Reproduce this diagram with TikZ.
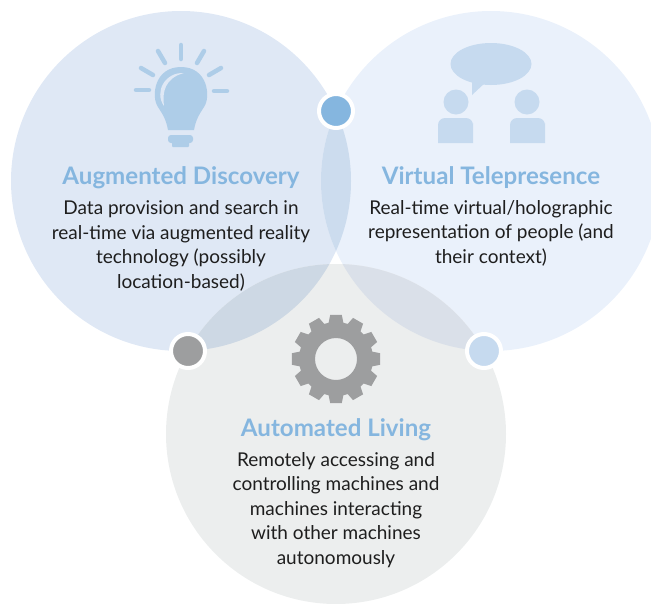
\documentclass[tikz,border=0pt]{standalone}
\usepackage{xcolor}
\usepackage{fontspec}
\usepackage{tikz}
\usetikzlibrary{calc}
\setmainfont{Lato}
\definecolor{discoveryfill}{HTML}{DFE8F5}
\definecolor{presencefill}{HTML}{EAF1FB}
\definecolor{livingfill}{HTML}{ECEEEE}
\definecolor{lensab}{HTML}{CCDCEE}
\definecolor{lensac}{HTML}{CDD8E4}
\definecolor{lensbc}{HTML}{DAE0E9}
\definecolor{titleblue}{HTML}{85B6DF}
\definecolor{bulbblue}{HTML}{AECDE8}
\definecolor{peopleblue}{HTML}{C6DAEF}
\definecolor{geargrey}{HTML}{9D9E9F}
\definecolor{bodytext}{HTML}{1E1E1E}
\tikzset{
    venntitle/.style={text=titleblue, font=\fontsize{24.1}{28}\selectfont\bfseries},
    vennbody/.style={text=bodytext, align=center, font=\fontsize{19}{24.6}\selectfont},
    vennmark/.style={circle, draw=white, line width=4pt, minimum size=34pt, inner sep=0pt},
    bulbray/.style={draw=bulbblue, line width=4.5pt, line cap=round}
}
\begin{document}
\begin{tikzpicture}[x=1pt,y=-1pt]
    \useasboundingbox (0,0) rectangle (651,603);
    % circles
    \fill[discoveryfill] (181,181) circle (170);
    \fill[presencefill] (491,181) circle (170);
    \fill[livingfill] (336,434) circle (170);
    % overlaps
    \begin{scope}
        \clip (181,181) circle (170);
        \fill[lensab] (491,181) circle (170);
        \fill[lensac] (336,434) circle (170);
    \end{scope}
    \begin{scope}
        \clip (491,181) circle (170);
        \fill[lensbc] (336,434) circle (170);
    \end{scope}
    % markers
    \node[vennmark, fill=titleblue] (markab) at (336,111) {};
    \node[vennmark, fill=geargrey] (markac) at (188,351) {};
    \node[vennmark, fill=peopleblue] (markbc) at (484,351) {};
    % light bulb
    \draw[bulbray] (181,45) -- (181,59);
    \draw[bulbray] (158,51) -- (165,63);
    \draw[bulbray] (204,51) -- (197,63);
    \draw[bulbray] (141,68) -- (153,75);
    \draw[bulbray] (221,68) -- (209,75);
    \draw[bulbray] (136,90) -- (149,90);
    \draw[bulbray] (214,91) -- (227,91);
    \fill[bulbblue] (168,130) .. controls (166,118) and (161,112) .. (158,107)
        .. controls (151,97) and (154,67) .. (181,67)
        .. controls (208,67) and (211,97) .. (204,107)
        .. controls (201,112) and (196,118) .. (194,130) -- cycle;
    \fill[discoveryfill] (184,73) .. controls (165,72) and (154,92) .. (164,106)
        .. controls (162,92) and (165,78) .. (184,73) -- cycle; % highlight
    \fill[bulbblue, rounded corners=3pt] (168,135) rectangle (193,143);
    \fill[bulbblue, rounded corners=1pt] (172,141) rectangle (189,147);
    % speech bubble and two people
    \fill[peopleblue] (491,64) ellipse (40.5 and 21);
    \fill[peopleblue] (472,80) -- (472,95) -- (486,82) -- cycle;
    \fill[peopleblue] (456,102) circle (12.5);
    \fill[peopleblue] (527,102) circle (12.5);
    \fill[peopleblue, rounded corners=7pt] (438,143) [sharp corners] -- (438,130) [rounded corners=7pt] -- (438,118) -- (473,118) -- (473,130) [sharp corners] -- (473,143) -- cycle;
    \fill[peopleblue, rounded corners=7pt] (510,143) [sharp corners] -- (510,130) [rounded corners=7pt] -- (510,118) -- (545,118) -- (545,130) [sharp corners] -- (545,143) -- cycle;
    % gear
    \fill[geargrey, even odd rule] ($(336,359)+(-15:37)$)
        \foreach \a in {0,30,...,330} {
            -- ($(336,359)+(\a-11.5:37)$) -- ($(336,359)+(\a-7.5:44.5)$) -- ($(336,359)+(\a+7.5:44.5)$) -- ($(336,359)+(\a+11.5:37)$)
        } -- cycle
        (336,359) circle (21);
    % titles
    \node[venntitle] (discoverytitle) at (181,178) {Augmented Discovery};
    \node[venntitle] (presencetitle) at (491,178) {Virtual Telepresence};
    \node[venntitle] (livingtitle) at (336,430) {Automated Living};
    % body text
    \node[vennbody] (discoverybody) at (181,246) {Data provision and search in\\real-time via augmented reality\\technology (possibly\\location-based)};
    \node[vennbody] (presencebody) at (491,233) {Real-time virtual/holographic\\representation of people (and\\their context)};
    \node[vennbody] (livingbody) at (336,510) {Remotely accessing and\\controlling machines and\\machines interacting\\with other machines\\autonomously};
\end{tikzpicture}
\end{document}
